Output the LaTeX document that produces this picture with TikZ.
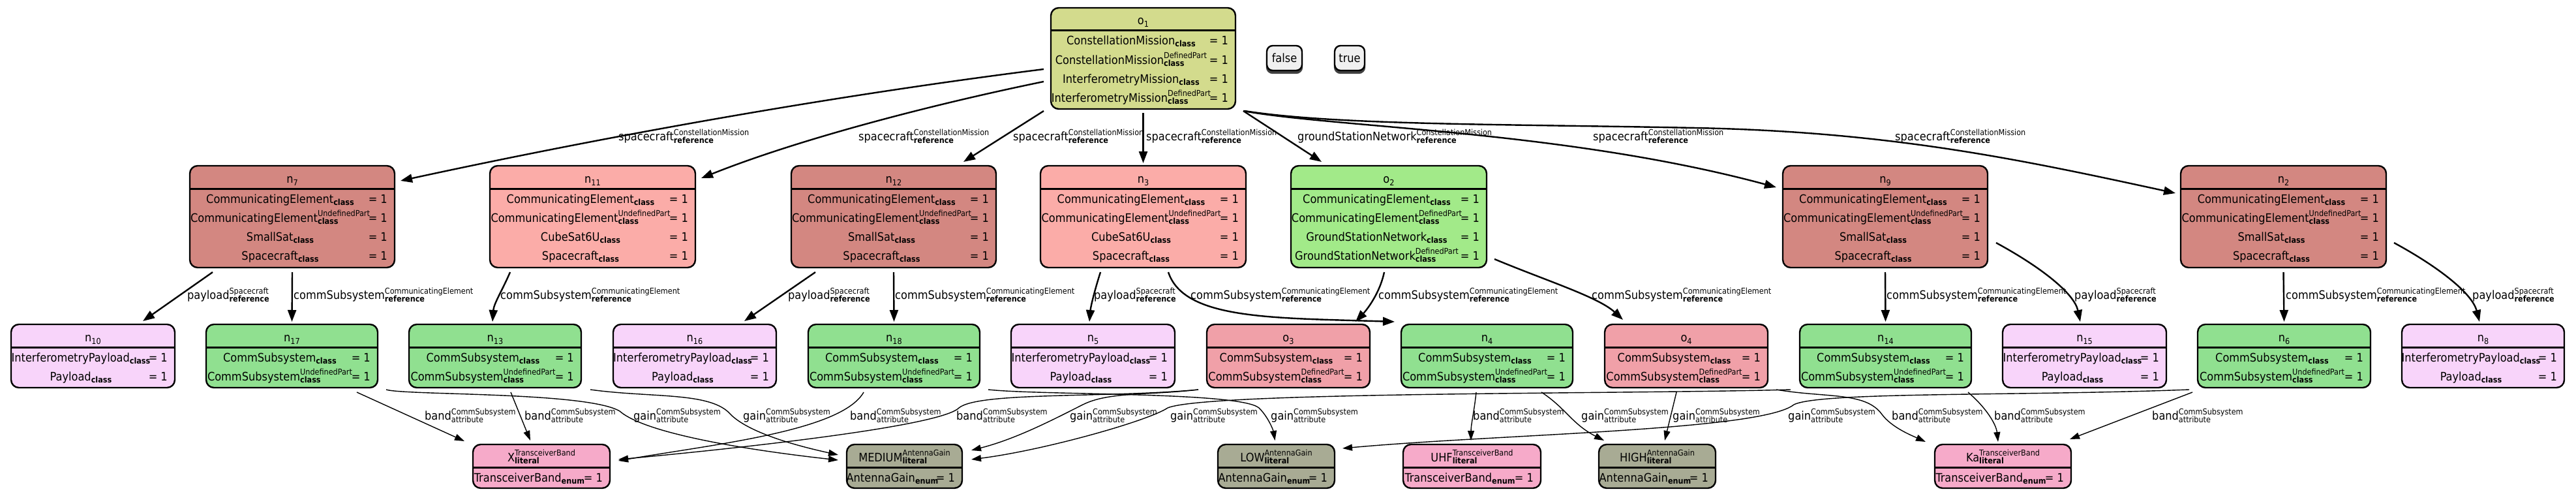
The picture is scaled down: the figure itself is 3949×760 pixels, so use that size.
\documentclass[tikz,border=0pt]{standalone}
\usepackage{fontspec}
\setmainfont{DejaVu Sans Condensed}
\usetikzlibrary{arrows.meta}

\definecolor{cOa}{RGB}{211,219,141}
\definecolor{cDk}{RGB}{211,135,129}
\definecolor{cLt}{RGB}{251,172,168}
\definecolor{cOb}{RGB}{162,234,137}
\definecolor{cGr}{RGB}{144,224,144}
\definecolor{cPk}{RGB}{248,212,250}
\definecolor{cOr}{RGB}{240,160,168}
\definecolor{cBd}{RGB}{246,170,201}
\definecolor{cGn}{RGB}{168,171,148}
\definecolor{cFl}{RGB}{240,240,240}

\newlength\supw \newlength\subw \newlength\supr \newlength\subd
\setlength\supr{9pt}\setlength\subd{3pt}
\newcommand\ssz{\fontsize{12.5}{13}\selectfont}
\newcommand\SupSub[3]{%
  \settowidth\supw{\ssz #1}\settowidth\subw{\ssz #3#2}%
  \ifdim\supw<\subw \setlength\supw{\subw}\fi
  \rlap{\raisebox{\supr}{\ssz #1}}\rlap{\raisebox{-\subd}{\ssz #3#2}}\hspace*{\supw}}
\newcommand\Sub[1]{\raisebox{-\subd}{\ssz\bfseries #1}}
\newcommand\Cls[1]{#1\Sub{class}}
\newcommand\ClsP[2]{#1\SupSub{#2}{class}{\bfseries}}
\newcommand\RefL[2]{#1\SupSub{#2}{reference}{\bfseries}}
\newcommand\Att[1]{#1\SupSub{CommSubsystem}{attribute}{}}
\newcommand\Lit[2]{#1\SupSub{#2}{literal}{\bfseries}}
\newcommand\Nm[2]{#1\raisebox{-4pt}{\ssz #2}}

\tikzset{
  objbox/.style={draw, line width=2.4pt, rounded corners=12pt, inner sep=0pt, outer sep=0pt, anchor=north west},
  hdr/.style={line width=3pt},
  txt/.style={inner sep=0pt, font=\fontsize{18}{20}\selectfont},
  lbl/.style={inner sep=0pt, anchor=base west, font=\fontsize{18}{20}\selectfont,
     execute at begin node={\setlength\supr{7.5pt}\setlength\subd{4pt}}},
  flag/.style={draw, line width=2.4pt, rounded corners=9pt, inner sep=0pt, outer sep=0pt, anchor=north west,
     fill=cFl, minimum width=54pt, minimum height=38pt, font=\fontsize{18}{20}\selectfont},
  flagsh/.style={flag, fill=black!75, draw=black!75},
  thk/.style={line width=2.4pt, -{Triangle[length=18pt,width=13pt]}},
  thn/.style={line width=1.4pt, -{Triangle[length=15pt,width=10pt]}},
}

\newcommand\Obj[7]{%
  \node[objbox, fill=#6, minimum width={(#4-#2)*1pt}, minimum height={(#5-#3)*1pt}] (#1) at (#2,#3) {};
  \draw[hdr] ([yshift=-35pt]#1.north west) -- ([yshift=-35pt]#1.north east);
  \node[txt, anchor=base] (#1t) at ([yshift=-26pt]#1.north) {#7};
}
\newcommand\Row[3]{%
  \node[txt, anchor=base] (#1r#2) at ([xshift=-18.5pt,yshift={-57pt-29pt*(#2-1)}]#1.north) {#3};
  \node[txt, anchor=base east] (#1v#2) at ([xshift=-11pt,yshift={-57pt-29pt*(#2-1)}]#1.north east) {= 1};
}
\newcommand\RowsSmall[1]{\Row{#1}{1}{\Cls{CommunicatingElement}}\Row{#1}{2}{\ClsP{CommunicatingElement}{UndefinedPart}}\Row{#1}{3}{\Cls{SmallSat}}\Row{#1}{4}{\Cls{Spacecraft}}}
\newcommand\RowsCube[1]{\Row{#1}{1}{\Cls{CommunicatingElement}}\Row{#1}{2}{\ClsP{CommunicatingElement}{UndefinedPart}}\Row{#1}{3}{\Cls{CubeSat6U}}\Row{#1}{4}{\Cls{Spacecraft}}}
\newcommand\RowsComm[1]{\Row{#1}{1}{\Cls{CommSubsystem}}\Row{#1}{2}{\ClsP{CommSubsystem}{UndefinedPart}}}
\newcommand\RowsCommD[1]{\Row{#1}{1}{\Cls{CommSubsystem}}\Row{#1}{2}{\ClsP{CommSubsystem}{DefinedPart}}}
\newcommand\RowsPay[1]{\Row{#1}{1}{\Cls{InterferometryPayload}}\Row{#1}{2}{\Cls{Payload}}}
\newcommand\Lb[4]{\node[lbl] (#1) at (#2,#3) {#4};}

\begin{document}
\begin{tikzpicture}[x=1pt,y=-1pt]
\fill[white] (0,0) rectangle (3949,760);
\useasboundingbox (0,0) rectangle (3949,760);

% ---------- row 1
\Obj{o1}{1611}{12}{1894}{167}{cOa}{\Nm{o}{1}}
\Row{o1}{1}{\Cls{ConstellationMission}}
\Row{o1}{2}{\ClsP{ConstellationMission}{DefinedPart}}
\Row{o1}{3}{\Cls{InterferometryMission}}
\Row{o1}{4}{\ClsP{InterferometryMission}{DefinedPart}}

\node[flagsh] (fFs) at (1942,74) {};
\node[flag] (fF) at (1942,70) {false};
\node[flagsh, minimum width=46pt] (fTs) at (2046,74) {};
\node[flag, minimum width=46pt] (fT) at (2046,70) {true};

% ---------- row 2
\Obj{n7}{291}{254}{605}{410}{cDk}{\Nm{n}{7}}\RowsSmall{n7}
\Obj{n11}{751}{254}{1066}{410}{cLt}{\Nm{n}{11}}\RowsCube{n11}
\Obj{n12}{1213}{254}{1527}{410}{cDk}{\Nm{n}{12}}\RowsSmall{n12}
\Obj{n3}{1595}{254}{1910}{410}{cLt}{\Nm{n}{3}}\RowsCube{n3}
\Obj{o2}{1979}{254}{2279}{410}{cOb}{\Nm{o}{2}}
\Row{o2}{1}{\Cls{CommunicatingElement}}
\Row{o2}{2}{\ClsP{CommunicatingElement}{DefinedPart}}
\Row{o2}{3}{\Cls{GroundStationNetwork}}
\Row{o2}{4}{\ClsP{GroundStationNetwork}{DefinedPart}}
\Obj{n9}{2733}{254}{3047}{410}{cDk}{\Nm{n}{9}}\RowsSmall{n9}
\Obj{n2}{3343}{254}{3658}{410}{cDk}{\Nm{n}{2}}\RowsSmall{n2}

% ---------- row 3
\Obj{n10}{17}{497}{268}{594}{cPk}{\Nm{n}{10}}\RowsPay{n10}
\Obj{n17}{316}{497}{579}{594}{cGr}{\Nm{n}{17}}\RowsComm{n17}
\Obj{n13}{627}{497}{891}{594}{cGr}{\Nm{n}{13}}\RowsComm{n13}
\Obj{n16}{940}{497}{1190}{594}{cPk}{\Nm{n}{16}}\RowsPay{n16}
\Obj{n18}{1239}{497}{1502}{594}{cGr}{\Nm{n}{18}}\RowsComm{n18}
\Obj{n5}{1550}{497}{1801}{594}{cPk}{\Nm{n}{5}}\RowsPay{n5}
\Obj{o3}{1850}{497}{2100}{594}{cOr}{\Nm{o}{3}}\RowsCommD{o3}
\Obj{n4}{2148}{497}{2411}{594}{cGr}{\Nm{n}{4}}\RowsComm{n4}
\Obj{o4}{2460}{497}{2710}{594}{cOr}{\Nm{o}{4}}\RowsCommD{o4}
\Obj{n14}{2759}{497}{3022}{594}{cGr}{\Nm{n}{14}}\RowsComm{n14}
\Obj{n15}{3070}{497}{3321}{594}{cPk}{\Nm{n}{15}}\RowsPay{n15}
\Obj{n6}{3369}{497}{3634}{594}{cGr}{\Nm{n}{6}}\RowsComm{n6}
\Obj{n8}{3682}{497}{3931}{594}{cPk}{\Nm{n}{8}}\RowsPay{n8}

% ---------- row 4
\Obj{bX}{725}{681}{935}{748}{cBd}{\Lit{X}{TransceiverBand}}\Row{bX}{1}{TransceiverBand\Sub{enum}}
\Obj{bMED}{1298}{681}{1475}{748}{cGn}{\Lit{MEDIUM}{AntennaGain}}\Row{bMED}{1}{AntennaGain\Sub{enum}}
\Obj{bLOW}{1867}{681}{2046}{748}{cGn}{\Lit{LOW}{AntennaGain}}\Row{bLOW}{1}{AntennaGain\Sub{enum}}
\Obj{bUHF}{2151}{681}{2362}{748}{cBd}{\Lit{UHF}{TransceiverBand}}\Row{bUHF}{1}{TransceiverBand\Sub{enum}}
\Obj{bHIGH}{2451}{681}{2630}{748}{cGn}{\Lit{HIGH}{AntennaGain}}\Row{bHIGH}{1}{AntennaGain\Sub{enum}}
\Obj{bKa}{2966}{681}{3175}{748}{cBd}{\Lit{Ka}{TransceiverBand}}\Row{bKa}{1}{TransceiverBand\Sub{enum}}

% ---------- edges row 1 -> row 2
\draw[thk] ([xshift=-11pt,yshift=-16.5pt]o1.west) .. controls (1250,150) and (900,215) .. ([xshift=9pt,yshift=-23pt]n7.north east);
\draw[thk] ([xshift=-11pt,yshift=-35.5pt]o1.west) .. controls (1420,162) and (1220,215) .. ([xshift=9pt,yshift=-19pt]n11.north east);
\draw[thk] ([xshift=-11pt,yshift=-3pt]o1.south west) -- ([xshift=-50pt,yshift=6pt]n12.north east);
\draw[thk] ([yshift=-6pt]o1.south) -- ([yshift=4pt]n3.north);
\draw[thk] ([xshift=12pt,yshift=-3pt]o1.south east) -- ([xshift=47pt,yshift=6pt]o2.north west);
\draw[thk] ([xshift=12pt,yshift=-3pt]o1.south east) .. controls (2050,196) and (2400,200) .. ([xshift=-10pt,yshift=-33pt]n9.north west);
\draw[thk] ([xshift=14pt,yshift=-3pt]o1.south east) .. controls (2050,192) and (2300,190) .. (2600,196) .. controls (2900,202) and (3100,245) .. ([xshift=-8pt,yshift=-42pt]n2.north west);

% ---------- edges row 2 -> row 3
\draw[thk] ([xshift=35pt,yshift=-7pt]n7.south west) -- ([xshift=-49pt,yshift=5pt]n10.north east);
\draw[thk] ([yshift=-7pt]n7.south) -- ([yshift=4pt]n17.north);
\draw[thk] ([xshift=31pt,yshift=-7pt]n11.south west) .. controls (770,445) and (757,465) .. ([xshift=128pt,yshift=4pt]n13.north west);
\draw[thk] ([xshift=37pt,yshift=-7pt]n12.south west) -- ([xshift=-49pt,yshift=5pt]n16.north east);
\draw[thk] ([yshift=-7pt]n12.south) -- ([yshift=4pt]n18.north);
\draw[thk] ([xshift=92pt,yshift=-7pt]n3.south west) .. controls (1678,445) and (1672,470) .. ([xshift=-5.5pt,yshift=4pt]n5.north);
\draw[thk] ([xshift=196pt,yshift=-7pt]n3.south west) .. controls (1815,490) and (1950,487) .. ([xshift=-10pt,yshift=4pt]n4.north west);
\draw[thk] ([xshift=143pt,yshift=-7pt]o2.south west) .. controls (2115,450) and (2095,475) .. ([xshift=-22pt,yshift=4pt]o3.north east);
\draw[thk] ([xshift=12pt,yshift=13pt]o2.south east) .. controls (2370,430) and (2450,455) .. ([xshift=28pt,yshift=7pt]o4.north west);
\draw[thk] ([yshift=-7pt]n9.south) -- ([yshift=4pt]n14.north);
\draw[thk] ([xshift=13pt,yshift=38pt]n9.south east) .. controls (3130,410) and (3180,450) .. ([xshift=-6.5pt,yshift=4pt]n15.north);
\draw[thk] ([yshift=-7pt]n2.south) -- ([yshift=4pt]n6.north);
\draw[thk] ([xshift=12pt,yshift=38pt]n2.south east) .. controls (3740,410) and (3790,450) .. ([xshift=-5.5pt,yshift=4pt]n8.north);

% ---------- edges row 3 -> row 4
\draw[thn] ([xshift=-32pt,yshift=-7pt]n17.south east) -- ([xshift=-13pt,yshift=5pt]bX.north west);
\draw[thn] ([xshift=156pt,yshift=-7pt]n13.south west) -- ([xshift=88pt,yshift=6pt]bX.north west);
\draw[thn] ([xshift=13pt,yshift=-3pt]n17.south east) .. controls (620,606) and (900,600) .. (950,630) .. controls (990,665) and (1150,690) .. ([xshift=-13pt,yshift=-24pt]bMED.north west);
\draw[thn] ([xshift=14pt,yshift=-3pt]n13.south east) .. controls (1000,610) and (1090,600) .. (1120,635) .. controls (1150,665) and (1230,685) .. ([xshift=-13pt,yshift=-16pt]bMED.north west);
\draw[thn] ([xshift=85pt,yshift=-7pt]n18.south west) .. controls (1290,660) and (1100,680) .. ([xshift=13pt,yshift=-25pt]bX.north east);
\draw[thn] ([xshift=-13pt,yshift=-3pt]o3.south west) .. controls (1700,610) and (1500,600) .. (1470,625) .. controls (1440,655) and (1100,690) .. ([xshift=13pt,yshift=-23pt]bX.north east);
\draw[thn] ([xshift=-13pt,yshift=-3pt]o3.south west) .. controls (1760,606) and (1700,600) .. (1660,620) .. controls (1620,640) and (1560,672) .. ([xshift=14pt,yshift=-9pt]bMED.north east);
\draw[thn] ([xshift=-14pt,yshift=-3pt]n14.south west) .. controls (2500,604) and (1850,600) .. (1790,625) .. controls (1760,645) and (1600,690) .. ([xshift=14pt,yshift=-23pt]bMED.north east);
\draw[thn] ([xshift=13pt,yshift=-3pt]n18.south east) .. controls (1600,606) and (1900,600) .. (1930,625) .. controls (1945,640) and (1952,660) .. ([xshift=-2pt,yshift=6pt]bLOW.north);
\draw[thn] ([xshift=115pt,yshift=-7pt]n4.south west) .. controls (2260,630) and (2255,650) .. ([xshift=104pt,yshift=6pt]bUHF.north west);
\draw[thn] ([xshift=-48pt,yshift=-7pt]n4.south east) .. controls (2400,625) and (2410,650) .. ([xshift=8pt,yshift=6pt]bHIGH.north west);
\draw[thn] ([xshift=110pt,yshift=-7pt]o4.south west) -- ([xshift=101pt,yshift=6pt]bHIGH.north west);
\draw[thn] ([xshift=-13pt,yshift=-3pt]n6.south west) .. controls (3100,607) and (2790,600) .. (2750,620) .. controls (2700,660) and (2300,665) .. ([xshift=12pt,yshift=-6pt]bLOW.north east);
\draw[thn] ([xshift=13pt,yshift=-3pt]o4.south east) .. controls (2800,610) and (2860,600) .. (2885,635) .. controls (2900,655) and (2930,667) .. ([xshift=-14pt,yshift=4pt]bKa.north west);
\draw[thn] ([xshift=-5pt,yshift=-7pt]n14.south east) .. controls (3045,625) and (3060,650) .. ([xshift=-7.5pt,yshift=4pt]bKa.north);
\draw[thn] ([xshift=-8pt,yshift=-7pt]n6.south west) -- ([xshift=-2pt,yshift=8pt]bKa.north east);

% ---------- labels
\Lb{l1}{948}{215}{\RefL{spacecraft}{ConstellationMission}}
\Lb{l2}{1316}{215}{\RefL{spacecraft}{ConstellationMission}}
\Lb{l3}{1553}{215}{\RefL{spacecraft}{ConstellationMission}}
\Lb{l4}{1757}{215}{\RefL{spacecraft}{ConstellationMission}}
\Lb{l5}{1989}{215}{\RefL{groundStationNetwork}{ConstellationMission}}
\Lb{l6}{2442}{215}{\RefL{spacecraft}{ConstellationMission}}
\Lb{l7}{2905}{215}{\RefL{spacecraft}{ConstellationMission}}

\Lb{m1}{287}{458}{\RefL{payload}{Spacecraft}}
\Lb{m2}{450}{458}{\RefL{commSubsystem}{CommunicatingElement}}
\Lb{m3}{767}{458}{\RefL{commSubsystem}{CommunicatingElement}}
\Lb{m4}{1208}{458}{\RefL{payload}{Spacecraft}}
\Lb{m5}{1372}{458}{\RefL{commSubsystem}{CommunicatingElement}}
\Lb{m6}{1677}{458}{\RefL{payload}{Spacecraft}}
\Lb{m7}{1825}{458}{\RefL{commSubsystem}{CommunicatingElement}}
\Lb{m8}{2113}{458}{\RefL{commSubsystem}{CommunicatingElement}}
\Lb{m9}{2440}{458}{\RefL{commSubsystem}{CommunicatingElement}}
\Lb{m10}{2892}{458}{\RefL{commSubsystem}{CommunicatingElement}}
\Lb{m11}{3180}{458}{\RefL{payload}{Spacecraft}}
\Lb{m12}{3504}{458}{\RefL{commSubsystem}{CommunicatingElement}}
\Lb{m13}{3790}{458}{\RefL{payload}{Spacecraft}}

\Lb{b1}{651}{643}{\Att{band}}
\Lb{b2}{804}{643}{\Att{band}}
\Lb{b3}{971}{643}{\Att{gain}}
\Lb{b4}{1139}{643}{\Att{gain}}
\Lb{b5}{1303}{643}{\Att{band}}
\Lb{b6}{1466}{643}{\Att{band}}
\Lb{b7}{1640}{643}{\Att{gain}}
\Lb{b8}{1794}{643}{\Att{gain}}
\Lb{b9}{1948}{643}{\Att{gain}}
\Lb{b10}{2258}{643}{\Att{band}}
\Lb{b11}{2424}{643}{\Att{gain}}
\Lb{b12}{2564}{643}{\Att{gain}}
\Lb{b13}{2741}{643}{\Att{gain}}
\Lb{b14}{2900}{643}{\Att{band}}
\Lb{b15}{3057}{643}{\Att{band}}
\Lb{b16}{3299}{643}{\Att{band}}
\end{tikzpicture}
\end{document}
